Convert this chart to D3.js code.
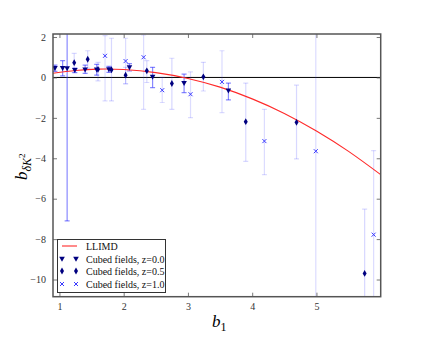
<!DOCTYPE html>
<html>
<head>
<meta charset="utf-8">
<script src="https://cdn.jsdelivr.net/npm/d3@7"></script>
<style>
  body { margin: 0; background: #fff; }
  svg { display: block; font-family: "Liberation Serif", serif; }
</style>
</head>
<body>
<div id="chart"></div>
<script>
// LLIMD prediction
const llimdB1 = [0.9, 1.25, 1.6, 2.0, 2.5, 3.0, 3.5, 4.0, 4.5, 5.0, 5.5, 6.0];
const llimdY  = [0.21, 0.34, 0.41, 0.39, 0.24, -0.05, -0.48, -1.06, -1.78, -2.65, -3.66, -4.81];

// Cubed fields, z=0.0 (triangles)
const z0B1 = [0.93, 1.05, 1.12, 1.24, 1.40, 1.58, 1.77, 2.09, 2.45, 2.94, 3.63];
const z0Y  = [0.46, 0.46, 0.45, 0.36, 0.38, 0.38, 0.40, 0.50, 0.03, -0.28, -0.65];
const z0Hi = [0.61, 0.83, 8.0, 0.46, 0.61, 0.65, 0.55, 0.68, 0.50, 0.16, -0.28];
const z0Lo = [0.30, 0.08, -7.1, 0.24, 0.20, 0.11, 0.25, 0.32, -0.50, -0.75, -1.11];

// Cubed fields, z=0.5 (diamonds)
const z5B1 = [1.23, 1.44, 1.60, 1.81, 2.03, 2.36, 2.75, 3.24, 3.90, 4.69, 5.75];
const z5Y  = [0.73, 0.90, 0.40, 0.38, 0.11, 0.33, -0.30, 0.03, -2.19, -2.22, -9.70];
const z5Hi = [1.19, 1.32, 0.75, 1.94, 0.50, 0.83, 0.95, 0.75, -0.28, -0.38, -6.52];
const z5Lo = [0.25, 0.46, -0.17, -1.16, -0.30, -0.25, -1.58, -0.67, -4.15, -4.03, -12.9];

// Cubed fields, z=1.0 (crosses)
const z1B1 = [1.71, 2.03, 2.31, 2.60, 3.04, 3.53, 4.19, 4.99, 5.89];
const z1Y  = [1.07, 0.81, 1.00, -0.63, -0.83, -0.22, -3.15, -3.65, -7.78];
const z1Hi = [2.07, 1.94, 2.10, 0.00, 0.28, 1.32, -1.58, 5.0, -3.62];
const z1Lo = [-1.16, -0.33, -1.58, -1.24, -1.99, -1.74, -4.81, -12.3, -11.9];

const xTicks = [1, 2, 3, 4, 5];
const yTicks = [2, 0, -2, -4, -6, -8, -10];

const width = 423, height = 341;
const mLeft = 53, mRight = 380.7, mTop = 34, mBottom = 296.7;

const x = d3.scaleLinear().domain([0.9, 6.0]).range([mLeft, mRight]);
const y = d3.scaleLinear().domain([-10.85, 2.15]).range([mBottom, mTop]);

const svg = d3.select("#chart").append("svg")
    .attr("width", width)
    .attr("height", height);

svg.append("clipPath").attr("id", "clip")
  .append("rect")
    .attr("x", mLeft).attr("y", mTop)
    .attr("width", mRight - mLeft).attr("height", mBottom - mTop);

const plot = svg.append("g").attr("clip-path", "url(#clip)");

// zero line
plot.append("line")
    .attr("x1", mLeft).attr("x2", mRight)
    .attr("y1", y(0)).attr("y2", y(0))
    .attr("stroke", "#000").attr("stroke-width", 1);

function series(b1, ys, hi, lo) {
  return b1.map((b, i) => ({ b: b, y: ys[i], hi: hi[i], lo: lo[i] }));
}

function errorBars(data, color) {
  const g = plot.append("g").attr("stroke", color).attr("stroke-width", 1.2);
  g.selectAll(".bar").data(data).enter().append("line")
      .attr("x1", d => x(d.b)).attr("x2", d => x(d.b))
      .attr("y1", d => y(d.hi)).attr("y2", d => y(d.lo));
  ["hi", "lo"].forEach(k => {
    g.selectAll(".cap-" + k).data(data).enter().append("line")
        .attr("x1", d => x(d.b) - 2.5).attr("x2", d => x(d.b) + 2.5)
        .attr("y1", d => y(d[k])).attr("y2", d => y(d[k]));
  });
}

const triPath = "M-2.8,-2.2L2.8,-2.2L0,2.8Z";
const diaPath = "M0,-3.4L2,0L0,3.4L-2,0Z";
const xPath = "M-2,-2L2,2M-2,2L2,-2";

function drawMarker(sel, kind) {
  if (kind === "tri") sel.append("path").attr("d", triPath).attr("fill", "#000080");
  if (kind === "dia") sel.append("path").attr("d", diaPath).attr("fill", "#000080");
  if (kind === "x") sel.append("path").attr("d", xPath).attr("fill", "none")
      .attr("stroke", "#3a3aff").attr("stroke-width", 1);
}

const s0 = series(z0B1, z0Y, z0Hi, z0Lo);
const s5 = series(z5B1, z5Y, z5Hi, z5Lo);
const s1 = series(z1B1, z1Y, z1Hi, z1Lo);

errorBars(s1, "rgba(60,60,255,0.18)");
errorBars(s5, "rgba(60,60,255,0.2)");
errorBars(s0, "rgba(40,40,255,0.55)");

// LLIMD curve
const line = d3.line().x(d => x(d[0])).y(d => y(d[1])).curve(d3.curveNatural);
plot.append("path")
    .datum(llimdB1.map((b, i) => [b, llimdY[i]]))
    .attr("d", line)
    .attr("fill", "none")
    .attr("stroke", "#ff2a2a")
    .attr("stroke-width", 1.1);

[[s1, "x"], [s5, "dia"], [s0, "tri"]].forEach(([data, kind]) => {
  plot.selectAll(".m-" + kind).data(data).enter().append("g")
      .attr("transform", d => `translate(${x(d.b)},${y(d.y)})`)
      .each(function() { drawMarker(d3.select(this), kind); });
});

// axes frame and ticks
const axisColor = "#555";
const xAxisB = svg.append("g").attr("transform", `translate(0,${mBottom})`)
    .call(d3.axisBottom(x).tickValues(xTicks).tickSize(-4).tickPadding(6).tickFormat(d3.format("d")));
const xAxisT = svg.append("g").attr("transform", `translate(0,${mTop})`)
    .call(d3.axisTop(x).tickValues(xTicks).tickSize(-4).tickFormat(""));
const yAxisL = svg.append("g").attr("transform", `translate(${mLeft},0)`)
    .call(d3.axisLeft(y).tickValues(yTicks).tickSize(-4).tickPadding(7)
      .tickFormat(d => d < 0 ? "\u2212" + Math.abs(d) : d));
const yAxisR = svg.append("g").attr("transform", `translate(${mRight},0)`)
    .call(d3.axisRight(y).tickValues(yTicks).tickSize(-4).tickFormat(""));

[xAxisB, xAxisT, yAxisL, yAxisR].forEach(a => {
  a.select(".domain").remove();
  a.selectAll("line").attr("stroke", axisColor).attr("stroke-width", 0.8);
  a.selectAll("text").attr("fill", "#333")
      .style("font-family", "'Liberation Serif', serif").style("font-size", "10px");
});

svg.append("rect")
    .attr("x", mLeft).attr("y", mTop)
    .attr("width", mRight - mLeft).attr("height", mBottom - mTop)
    .attr("fill", "none").attr("stroke", axisColor).attr("stroke-width", 1.5);

// axis labels
svg.append("text")
    .attr("x", 212).attr("y", 327)
    .style("font-size", "17px").style("font-style", "italic")
    .text("b")
  .append("tspan").attr("dy", 4).style("font-size", "12px").style("font-style", "normal").text("1");

const yl = svg.append("text")
    .attr("transform", "translate(27,180) rotate(-90)")
    .style("font-size", "17px").style("font-style", "italic");
yl.append("tspan").text("b");
yl.append("tspan").attr("dy", 4).style("font-size", "12px").text("\u03b4K");
yl.append("tspan").attr("dy", -6).style("font-size", "9px").style("font-style", "normal").text("2");

// legend
const lg = svg.append("g");
lg.append("rect")
    .attr("x", 57.5).attr("y", 239.5).attr("width", 108).attr("height", 53)
    .attr("fill", "#fff").attr("stroke", "#333").attr("stroke-width", 1);

const legendRows = [
  { label: "LLIMD", kind: "line", y: 246 },
  { label: "Cubed fields, z=0.0", kind: "tri", y: 259 },
  { label: "Cubed fields, z=0.5", kind: "dia", y: 271 },
  { label: "Cubed fields, z=1.0", kind: "x", y: 284 }
];
legendRows.forEach(r => {
  if (r.kind === "line") {
    lg.append("line").attr("x1", 62).attr("x2", 77).attr("y1", r.y).attr("y2", r.y)
        .attr("stroke", "#ff2a2a").attr("stroke-width", 1.1);
  } else {
    [62, 76].forEach(px => {
      const m = lg.append("g").attr("transform", `translate(${px},${r.y})`);
      drawMarker(m, r.kind);
    });
  }
  lg.append("text").attr("x", 86).attr("y", r.y + 3.5)
      .style("font-size", "10px").attr("fill", "#111").text(r.label);
});
</script>
</body>
</html>
